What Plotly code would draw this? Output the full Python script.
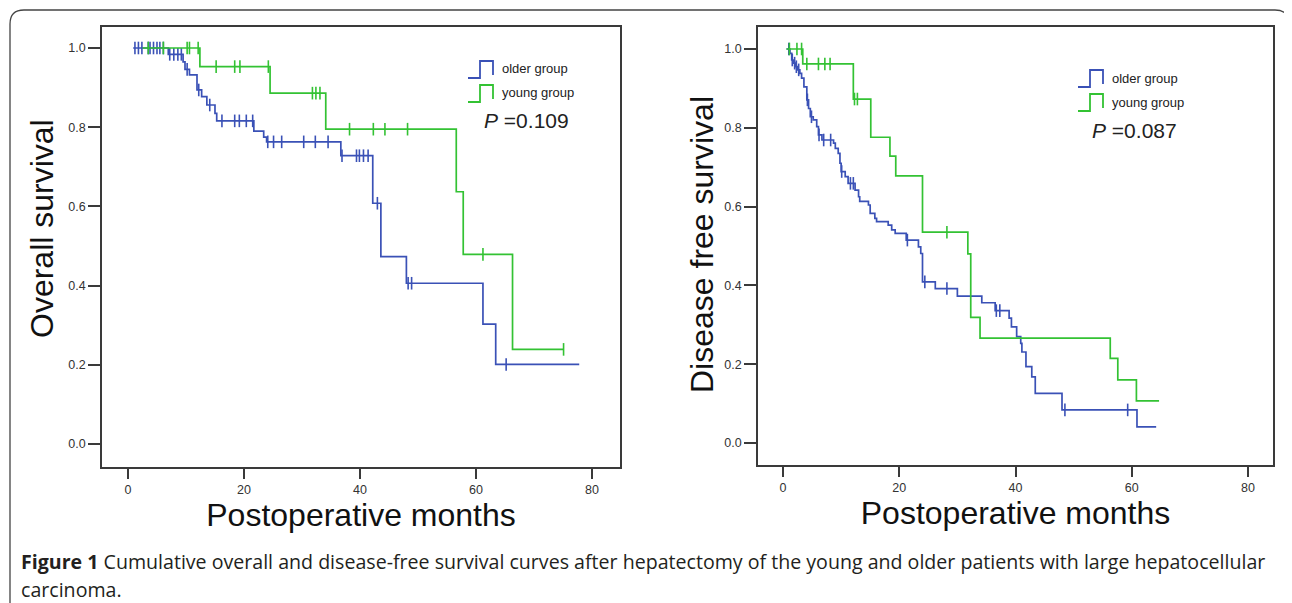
import numpy as np
import plotly.graph_objects as go

# ---------------- data ----------------
# Overall survival, older group
os_old_start, os_old_end = 0.9, 77.8
os_old_t = [6.95, 9.5, 9.83, 10.6, 11.9, 12.7, 13.6, 15.0, 15.3, 21.7, 23.4, 23.9,
            36.7, 42.2, 43.6, 48.0, 61.2, 63.4]
os_old_s = [0.984, 0.965, 0.946, 0.932, 0.894, 0.877, 0.856, 0.835, 0.816, 0.790, 0.775, 0.763,
            0.728, 0.608, 0.473, 0.406, 0.303, 0.201]
os_old_cens = [1.2, 1.8, 2.4, 3.5, 3.8, 4.4, 5.0, 5.5, 6.1, 7.2, 7.9, 8.6, 9.2, 10.2, 12.2,
               14.1, 16.2, 18.4, 19.2, 20.4, 21.5, 24.1, 25.1, 26.5, 30.3, 32.3, 34.5,
               36.9, 39.4, 39.9, 40.6, 41.4, 43.0, 48.3, 48.9, 65.2]

# Overall survival, young group
os_yng_start, os_yng_end = 2.5, 75.1
os_yng_t = [12.4, 24.5, 34.1, 56.6, 57.8, 66.3]
os_yng_s = [0.953, 0.886, 0.795, 0.637, 0.479, 0.239]
os_yng_cens = [3.5, 6.1, 10.2, 10.6, 12.1, 15.2, 18.4, 19.3, 24.2, 31.8, 32.4, 33.1,
               38.2, 42.3, 44.3, 48.2, 61.2, 75.1]

# Disease free survival, older group
dfs_old_start, dfs_old_end = 0.6, 64.2
dfs_old_t = [1.2, 1.5, 1.8, 2.1, 2.5, 2.9, 3.2, 3.6, 4.1, 4.4,
             4.7, 5.2, 5.8, 6.1, 6.7, 8.7, 9.0, 9.5, 9.8, 10.0,
             10.7, 11.2, 12.4, 13.0, 13.2, 14.7, 15.0, 15.8, 16.1, 18.1,
             18.7, 19.3, 21.2, 23.3, 23.7, 24.0, 26.2, 30.0, 34.2, 36.5,
             38.9, 39.3, 40.2, 40.9, 41.1, 41.8, 42.8, 43.4, 48.0, 60.9]
dfs_old_s = [0.989, 0.972, 0.964, 0.955, 0.947, 0.938, 0.926, 0.904, 0.871, 0.849,
             0.828, 0.820, 0.803, 0.782, 0.769, 0.761, 0.748, 0.735, 0.710, 0.689,
             0.676, 0.659, 0.642, 0.625, 0.613, 0.604, 0.583, 0.570, 0.562, 0.553,
             0.541, 0.532, 0.515, 0.498, 0.481, 0.409, 0.392, 0.373, 0.356, 0.336,
             0.317, 0.295, 0.270, 0.253, 0.231, 0.194, 0.168, 0.126, 0.084, 0.041]
dfs_old_cens = [1.0, 1.6, 2.0, 2.3, 2.7, 4.2, 4.9, 6.2, 7.0, 8.2, 10.1, 11.6, 12.1,
                21.4, 24.4, 28.2, 36.7, 37.3, 48.5, 59.3]

# Disease free survival, young group
dfs_yng_start, dfs_yng_end = 0.6, 64.7
dfs_yng_t = [3.4, 12.1, 15.1, 18.4, 19.4, 24.0, 31.8, 32.3, 33.9, 56.3, 57.6, 60.8]
dfs_yng_s = [0.962, 0.873, 0.776, 0.728, 0.678, 0.535, 0.480, 0.319, 0.266, 0.215, 0.160, 0.107]
dfs_yng_cens = [1.1, 2.4, 3.2, 4.1, 6.1, 7.2, 8.1, 12.3, 12.8, 28.2]

group_names = ["older group", "young group"]
p_values = ["0.109", "0.087"]
x_ticks = [0, 20, 40, 60, 80]
y_ticks = [0.0, 0.2, 0.4, 0.6, 0.8, 1.0]
x_title = "Postoperative months"
y_titles = ["Overall survival", "Disease free survival"]
caption_bold = "Figure 1"
caption_rest = (" Cumulative overall and disease-free survival curves after hepatectomy of the "
                "young and older patients with large hepatocellular")
caption_line2 = "carcinoma."

# ---------------- styling ----------------
W, H = 1292, 603
OFF = 8                      # page body margin of the html page
FW, FH = W - OFF, H - OFF    # figure size so that it fits the window
BLUE = "#3a51b6"
GREEN = "#33c233"
AXC = "#3a3a3a"
FONT = "Liberation Sans, Arial, sans-serif"
CAPFONT = "Open Sans, Noto Sans, sans-serif"


def PX(x):
    return (x - OFF) / FW


def PY(y):
    return 1 - (y - OFF) / FH


def step_at(times, surv, t):
    idx = np.searchsorted(np.asarray(times), t, side="right") - 1
    return 1.0 if idx < 0 else surv[idx]


fig = go.Figure()

panels = [
    dict(xa="x", ya="y",
         curves=[(os_old_start, os_old_end, os_old_t, os_old_s, os_old_cens, BLUE),
                 (os_yng_start, os_yng_end, os_yng_t, os_yng_s, os_yng_cens, GREEN)]),
    dict(xa="x2", ya="y2",
         curves=[(dfs_old_start, dfs_old_end, dfs_old_t, dfs_old_s, dfs_old_cens, BLUE),
                 (dfs_yng_start, dfs_yng_end, dfs_yng_t, dfs_yng_s, dfs_yng_cens, GREEN)]),
]

for p in panels:
    for gi, (t0, t1, tt, ss, cc, col) in enumerate(p["curves"]):
        xs = [t0] + list(tt) + [t1]
        ys = [1.0] + list(ss) + [ss[-1]]
        fig.add_trace(go.Scatter(x=xs, y=ys, mode="lines", line_shape="hv",
                                 line=dict(color=col, width=1.7),
                                 name=group_names[gi], showlegend=False,
                                 xaxis=p["xa"], yaxis=p["ya"], hoverinfo="skip"))
        cy = [step_at(tt, ss, c) for c in cc]
        fig.add_trace(go.Scatter(x=cc, y=cy, mode="markers",
                                 marker=dict(symbol="line-ns", size=9,
                                             line=dict(color=col, width=1.6)),
                                 name=group_names[gi] + " censored", showlegend=False,
                                 xaxis=p["xa"], yaxis=p["ya"], hoverinfo="skip"))

common_x = dict(tickmode="array", tickvals=x_ticks, ticks="outside", ticklen=10,
                tickwidth=2, tickcolor=AXC, showline=True, linecolor=AXC, linewidth=1.5,
                mirror=True, showgrid=False, zeroline=False,
                tickfont=dict(family=FONT, size=12.5, color="#333"),
                title=dict(text=x_title, font=dict(family=FONT, size=32, color="#111"),
                           standoff=4))
common_y = dict(tickmode="array", tickvals=y_ticks, tickformat=".1f", ticks="outside",
                ticklen=12, tickwidth=2, tickcolor=AXC, showline=True, linecolor=AXC,
                linewidth=1.5, mirror=True, showgrid=False, zeroline=False,
                tickfont=dict(family=FONT, size=12.5, color="#333"))

fig.update_layout(
    width=FW, height=FH, margin=dict(l=0, r=0, t=0, b=0),
    paper_bgcolor="white", plot_bgcolor="white", showlegend=False,
    xaxis=dict(domain=[PX(102), PX(620)], range=[-4.48, 84.83], anchor="y", **common_x),
    yaxis=dict(domain=[PY(467), PY(27)], range=[-0.058, 1.053], anchor="x", **common_y),
    xaxis2=dict(domain=[PX(758), PX(1273)], range=[-4.30, 84.3], anchor="y2", **common_x),
    yaxis2=dict(domain=[PY(465), PY(27)], range=[-0.0558, 1.0558], anchor="x2", **common_y),
)

shapes = []
annotations = []

# y axis titles (placed where the reference has them)
for (cx, cyy), txt in zip([(42, 229), (702, 245)], y_titles):
    annotations.append(dict(xref="paper", yref="paper", x=PX(cx), y=PY(cyy),
                            xanchor="center", yanchor="middle", textangle=-90,
                            showarrow=False, text=txt,
                            font=dict(family=FONT, size=32, color="#111")))

# outer rounded frame
r = 14
fx0, fy0, fx1, fy1 = 10, 10, 1289, 640
frame = (f"M {PX(fx0)},{PY(fy1)} L {PX(fx0)},{PY(fy0 + r)} "
         f"Q {PX(fx0)},{PY(fy0)} {PX(fx0 + r)},{PY(fy0)} "
         f"L {PX(fx1 - r)},{PY(fy0)} Q {PX(fx1)},{PY(fy0)} {PX(fx1)},{PY(fy0 + r)} "
         f"L {PX(fx1)},{PY(fy1)}")
shapes.append(dict(type="path", xref="paper", yref="paper", path=frame,
                   line=dict(color="#444", width=1.3), layer="below"))

# legends (step icons + labels + P value)
legend_pos = [(468, 61, 120, 482), (1078, 70, 131, 1090)]
for (lx, ly, py_, pxx), pv in zip(legend_pos, p_values):
    for k, col in enumerate([BLUE, GREEN]):
        top = ly + k * 24
        bot = top + 17
        path = (f"M {PX(lx)},{PY(bot)} L {PX(lx + 12)},{PY(bot)} L {PX(lx + 12)},{PY(top)} "
                f"L {PX(lx + 25)},{PY(top)} L {PX(lx + 25)},{PY(bot - 3)}")
        shapes.append(dict(type="path", xref="paper", yref="paper", path=path,
                           line=dict(color=col, width=1.8)))
        annotations.append(dict(xref="paper", yref="paper", x=PX(lx + 32), y=PY(top + 8),
                                xanchor="left", yanchor="middle", showarrow=False,
                                text=group_names[k],
                                font=dict(family=FONT, size=13, color="#222")))
    annotations.append(dict(xref="paper", yref="paper", x=PX(pxx), y=PY(py_),
                            xanchor="left", yanchor="middle", showarrow=False,
                            text=f"<i>P</i> ={pv}",
                            font=dict(family=FONT, size=21, color="#222")))

# caption
annotations.append(dict(xref="paper", yref="paper", x=PX(19), y=PY(561), xanchor="left",
                        yanchor="middle", showarrow=False,
                        text=f"<b>{caption_bold}</b>{caption_rest}",
                        font=dict(family=CAPFONT, size=19.6, color="#231f20")))
annotations.append(dict(xref="paper", yref="paper", x=PX(19), y=PY(589), xanchor="left",
                        yanchor="middle", showarrow=False, text=caption_line2,
                        font=dict(family=CAPFONT, size=19.6, color="#231f20")))

fig.update_layout(shapes=shapes, annotations=annotations)
fig.write_html("out.html")
